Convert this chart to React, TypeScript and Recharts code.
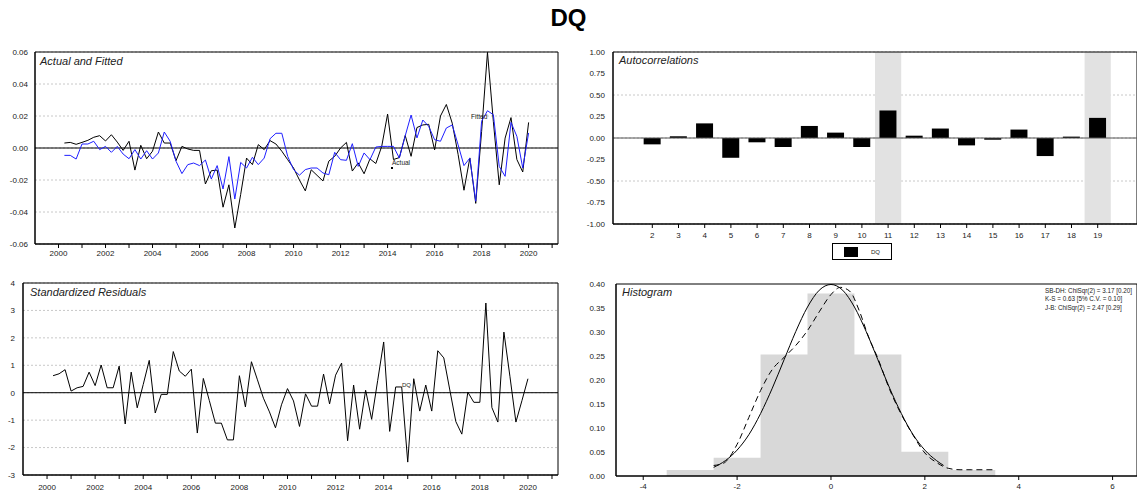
import React from 'react';
import {
  LineChart, Line, BarChart, Bar, ComposedChart, Area,
  XAxis, YAxis, CartesianGrid, ReferenceLine, ReferenceArea,
} from 'recharts';

const FONT = '"Liberation Sans", Arial, sans-serif';

// quarterly DQ, 2000Q2 .. 2020Q1
const ACTUAL = [
  0.0031, 0.0035, 0.0023, 0.0035, 0.0048, 0.0067, 0.0077, 0.0044, 0.0083, 0.0037,
  -0.0015, 0.0042, -0.0138, 0.0017, -0.0067, -0.002, 0.010, 0.0031, 0.0031, -0.0079,
  0.001, -0.0006, -0.0015, -0.0015, -0.0225, -0.0142, -0.0138, -0.037, -0.023, -0.050,
  -0.029, -0.0063, -0.0104, 0.0021, -0.001, 0.0046, 0.0025, -0.002, -0.0073, -0.0125,
  -0.020, -0.0268, -0.0136, -0.0171, -0.0206, -0.0082, -0.0052, 0.0, 0.0035, -0.0144,
  -0.0093, -0.0161, -0.0068, -0.0097, 0.001, 0.0212, -0.0072, -0.006, 0.0078, -0.0052,
  0.0128, 0.0144, 0.0148, -0.0012, 0.020, 0.0272, 0.0155, -0.004, -0.0264, -0.0062,
  -0.0346, 0.0103, 0.0598, 0.0165, -0.023, 0.0062, 0.019, -0.0072, -0.015, 0.016,
];
const FITTED = [
  -0.0046, -0.0046, -0.0069, 0.0025, 0.0025, 0.0042, -0.001, 0.001, -0.0027, 0.001,
  -0.0038, -0.0067, -0.001, -0.0069, -0.0017, -0.0069, -0.0031, 0.010, 0.0042, -0.0083,
  -0.016, -0.0104, -0.0094, -0.011, -0.0075, -0.0194, -0.011, -0.0256, -0.0054, -0.0319,
  -0.009, -0.0125, -0.0058, -0.0104, -0.0063, 0.0058, 0.0092, 0.0092, -0.0052, -0.0135,
  -0.017, -0.0135, -0.0125, -0.0125, -0.0156, -0.0167, -0.0027, -0.0073, -0.0077, 0.0027,
  -0.0115, -0.0031, -0.0073, 0.0006, 0.001, 0.001, 0.001, -0.0063, 0.0076, 0.0206,
  0.0063, 0.0175, 0.0135, 0.0052, 0.0042, 0.0125, 0.0144, 0.002, -0.011, -0.0063,
  -0.0333, 0.0167, 0.0233, 0.0208, -0.0115, -0.0177, 0.016, 0.0073, -0.0125, 0.0094,
];
const RESIDUALS = [
  0.62, 0.69, 0.84, 0.06, 0.18, 0.23, 0.75, 0.26, 1.01, 0.18,
  0.18, 0.97, -1.14, 0.75, -0.55, 0.3, 1.18, -0.74, -0.06, -0.06,
  1.50, 0.79, 0.60, 0.86, -1.47, 0.52, -0.29, -1.11, -1.11, -1.72,
  -1.72, 0.62, -0.52, 1.13, 0.47, -0.2, -0.7, -1.28, -0.44, 0.15,
  -0.3, -1.23, -0.04, -0.49, -0.49, 0.68, -0.41, 0.64, 1.08, -1.75,
  0.28, -1.33, 0.09, -0.97, 0.44, 1.85, -1.41, 0.21, 0.21, -2.53,
  0.51, -0.67, 0.28, -0.67, 1.53, 1.27, 0.1, -1.05, -1.51, 0.02,
  -0.35, -0.35, 3.27, -0.54, -1.07, 2.21, 0.6, -1.07, -0.29, 0.51,
];
const FIRST_QUARTER = 2000.25;
const YEAR_TICKS = [
  2000, 2001, 2002, 2003, 2004, 2005, 2006, 2007, 2008, 2009, 2010,
  2011, 2012, 2013, 2014, 2015, 2016, 2017, 2018, 2019, 2020, 2021,
];
const AF_TICKS = [-0.06, -0.04, -0.02, 0, 0.02, 0.04, 0.06];
const RES_TICKS = [-3, -2, -1, 0, 1, 2, 3, 4];

const ACF_LAGS = [1, 2, 3, 4, 5, 6, 7, 8, 9, 10, 11, 12, 13, 14, 15, 16, 17, 18, 19, 20];
const ACF_VALUES = [
  null, -0.074, 0.02, 0.17, -0.23, -0.05, -0.105, 0.14, 0.0625, -0.105,
  0.32, 0.027, 0.11, -0.086, -0.02, 0.098, -0.21, 0.016, 0.234, null,
];
const ACF_TICKS = [2, 3, 4, 5, 6, 7, 8, 9, 10, 11, 12, 13, 14, 15, 16, 17, 18, 19];
const ACF_Y_TICKS = [-1, -0.75, -0.5, -0.25, 0, 0.25, 0.5, 0.75, 1];
const ACF_HIGHLIGHT = [11, 19];

const HIST_EDGES = [-3.5, -2.5, -1.5, -0.5, 0.5, 1.5, 2.5, 3.5];
const HIST_DENSITY = [0.0127, 0.038, 0.253, 0.38, 0.253, 0.0506, 0.0127, 0];
const NORMAL_X = [-2.5, -2.25, -2, -1.75, -1.5, -1.25, -1, -0.75, -0.5, -0.25, 0,
  0.25, 0.5, 0.75, 1, 1.25, 1.5, 1.75, 2, 2.25, 2.4];
const NORMAL_Y = [0.018, 0.032, 0.054, 0.086, 0.13, 0.183, 0.242, 0.301, 0.352, 0.387, 0.399,
  0.387, 0.352, 0.301, 0.242, 0.183, 0.13, 0.086, 0.054, 0.032, 0.022];
const KDE_X = [-2.5, -2.3, -2, -1.75, -1.5, -1.25, -1, -0.75, -0.5, -0.25, 0, 0.2,
  0.4, 0.6, 0.8, 1, 1.25, 1.5, 1.75, 2, 2.25, 2.5, 2.75, 3, 3.5];
const KDE_Y = [0.022, 0.026, 0.066, 0.122, 0.178, 0.222, 0.247, 0.272, 0.303, 0.342, 0.378, 0.393,
  0.385, 0.345, 0.29, 0.245, 0.18, 0.128, 0.085, 0.048, 0.028, 0.016, 0.013, 0.013, 0.013];
const HIST_X_TICKS = [-4, -2, 0, 2, 4, 6];
const HIST_Y_TICKS = [0, 0.05, 0.1, 0.15, 0.2, 0.25, 0.3, 0.35, 0.4];

const tickStyle = { fontSize: 8, fill: '#222', fontFamily: FONT };
const gridColor = '#c8c8c8';

const quarterRows = ACTUAL.map((a, i) => ({
  t: FIRST_QUARTER + i * 0.25,
  actual: a,
  fitted: FITTED[i],
  resid: RESIDUALS[i],
}));
const acfRows = ACF_LAGS.map((lag, i) => ({ lag, r: ACF_VALUES[i] }));
const histRows = HIST_EDGES.map((x, i) => ({ x, d: HIST_DENSITY[i] }));
const normalRows = NORMAL_X.map((x, i) => ({ x, y: NORMAL_Y[i] }));
const kdeRows = KDE_X.map((x, i) => ({ x, y: KDE_Y[i] }));

const yearLabel = (v: number) => (v % 2 === 0 ? String(v) : '');

const Txt = ({ left, top, size, children, italic = false, bold = false }: any) => (
  <div style={{
    position: 'absolute', left, top, fontSize: size, lineHeight: 1, whiteSpace: 'nowrap',
    fontStyle: italic ? 'italic' : 'normal', fontWeight: bold ? 'bold' : 'normal',
    color: '#222', pointerEvents: 'none',
  }}>{children}</div>
);

const App = () => {
  return (
    <div style={{ position: 'relative', width: 1137, height: 493, background: '#fff', fontFamily: FONT, overflow: 'hidden' }}>
      <style>{'body{margin:0}'}</style>

      {/* actual and fitted */}
      <div style={{ position: 'absolute', left: 0, top: 0 }}>
        <LineChart width={570} height={265} data={quarterRows} margin={{ top: 52, right: 12, bottom: 5, left: 0 }}>
          <CartesianGrid vertical={false} stroke={gridColor} strokeDasharray="2 2" />
          <XAxis dataKey="t" type="number" domain={[1999, 2021.25]} ticks={YEAR_TICKS} interval={0}
            tickFormatter={yearLabel} height={16} tickSize={4} tickMargin={2} stroke="#000" tick={tickStyle} />
          <YAxis type="number" domain={[-0.06, 0.06]} ticks={AF_TICKS} width={35} tickLine={false}
            tickSize={4} tickMargin={3} tickFormatter={(v: number) => v.toFixed(2)} stroke="#000" tick={tickStyle} />
          <ReferenceLine y={0} stroke="#000" />
          <ReferenceArea x1={1999} x2={2021.25} y1={-0.06} y2={0.06} fill="none" stroke="#000" ifOverflow="visible" />
          <Line dataKey="actual" stroke="#000" strokeWidth={1} dot={false} isAnimationActive={false} />
          <Line dataKey="fitted" stroke="#1f1fff" strokeWidth={1} dot={false} isAnimationActive={false} />
        </LineChart>
      </div>

      {/* autocorrelations */}
      <div style={{ position: 'absolute', left: 570, top: 0 }}>
        <BarChart width={567} height={265} data={acfRows} margin={{ top: 52, right: 0, bottom: 25, left: 0 }} barCategoryGap="17%">
          {ACF_HIGHLIGHT.map((l) => (
            <ReferenceArea key={l} x1={l} x2={l} y1={-1} y2={1} fill="#e2e2e2" fillOpacity={1} stroke="none" ifOverflow="visible" />
          ))}
          <CartesianGrid vertical={false} stroke={gridColor} strokeDasharray="2 2" />
          <XAxis dataKey="lag" type="category" ticks={ACF_TICKS} interval={0} height={16}
            tickSize={4} tickMargin={4} stroke="#000" tick={tickStyle} />
          <YAxis type="number" domain={[-1, 1]} ticks={ACF_Y_TICKS} width={43} tickLine={false}
            tickSize={4} tickMargin={4} tickFormatter={(v: number) => v.toFixed(2)} stroke="#000" tick={tickStyle} />
          <ReferenceLine y={0} stroke="#555" />
          <Bar dataKey="r" fill="#000" isAnimationActive={false} />
          <ReferenceArea x1={1} x2={20} y1={-1} y2={1} fill="none" stroke="#000" ifOverflow="visible" />
        </BarChart>
      </div>

      {/* standardized residuals */}
      <div style={{ position: 'absolute', left: 0, top: 265 }}>
        <LineChart width={570} height={228} data={quarterRows} margin={{ top: 18, right: 12, bottom: 2, left: 0 }}>
          <CartesianGrid vertical={false} stroke={gridColor} strokeDasharray="2 2" />
          <XAxis dataKey="t" type="number" domain={[1999, 2021.25]} ticks={YEAR_TICKS} interval={0}
            tickFormatter={yearLabel} height={16} tickSize={4} tickMargin={5} stroke="#000" tick={tickStyle} />
          <YAxis type="number" domain={[-3, 4]} ticks={RES_TICKS} width={23} tickLine={false}
            tickSize={4} tickMargin={4} stroke="#000" tick={tickStyle} />
          <ReferenceLine y={0} stroke="#000" />
          <ReferenceArea x1={1999} x2={2021.25} y1={-3} y2={4} fill="none" stroke="#000" ifOverflow="visible" />
          <Line dataKey="resid" stroke="#000" strokeWidth={1} dot={false} isAnimationActive={false} />
        </LineChart>
      </div>

      {/* histogram */}
      <div style={{ position: 'absolute', left: 570, top: 265 }}>
        <ComposedChart width={567} height={228} data={histRows} margin={{ top: 19, right: 0, bottom: 1, left: 0 }}>
          <XAxis dataKey="x" type="number" domain={[-4.58, 6.52]} ticks={HIST_X_TICKS} interval={0} height={16}
            tickSize={4} tickMargin={3} stroke="#000" tick={tickStyle} />
          <YAxis type="number" domain={[0, 0.4]} ticks={HIST_Y_TICKS} width={46} tickLine={false}
            tickSize={4} tickMargin={7} tickFormatter={(v: number) => v.toFixed(2)} stroke="#000" tick={tickStyle} />
          <Area dataKey="d" type="stepAfter" fill="#d8d8d8" fillOpacity={1} stroke="none" isAnimationActive={false} />
          <Line data={normalRows} dataKey="y" type="monotone" stroke="#000" strokeWidth={1} dot={false} isAnimationActive={false} />
          <Line data={kdeRows} dataKey="y" type="monotone" stroke="#000" strokeWidth={1} strokeDasharray="6 4" dot={false} isAnimationActive={false} />
          <ReferenceArea x1={-4.58} x2={6.52} y1={0} y2={0.4} fill="none" stroke="#000" ifOverflow="visible" />
        </ComposedChart>
      </div>

      {/* texts */}
      <Txt left={0} top={6} size={24} bold>
        <div style={{ width: 1137, textAlign: 'center', color: '#000' }}>DQ</div>
      </Txt>
      <Txt left={40} top={56} size={11} italic>Actual and Fitted</Txt>
      <Txt left={619} top={55} size={11} italic>Autocorrelations</Txt>
      <Txt left={30} top={287} size={11} italic>Standardized Residuals</Txt>
      <Txt left={622} top={287} size={11} italic>Histogram</Txt>

      <Txt left={471} top={114} size={6.5}>Fitted</Txt>
      <Txt left={392} top={160} size={6.5}>Actual</Txt>
      <div style={{ position: 'absolute', left: 391, top: 167, width: 2, height: 2, background: '#000' }} />
      <Txt left={402} top={382} size={6}>DQ</Txt>

      <div style={{ position: 'absolute', left: 1045, top: 287, fontSize: 6.3, lineHeight: '8.3px', color: '#222', whiteSpace: 'nowrap' }}>
        <div>SB-DH: ChiSqr(2) = 3.17 [0.20]</div>
        <div>K-S = 0.63 [5% C.V. = 0.10]</div>
        <div>J-B: ChiSqr(2) = 2.47 [0.29]</div>
      </div>

      <div style={{ position: 'absolute', left: 832, top: 243, width: 58, height: 15, border: '1px solid #000', background: '#fff' }}>
        <div style={{ position: 'absolute', left: 11, top: 3, width: 14, height: 10, background: '#000' }} />
        <div style={{ position: 'absolute', left: 38, top: 5, fontSize: 6, lineHeight: 1, color: '#222' }}>DQ</div>
      </div>
    </div>
  );
};

export default App;
